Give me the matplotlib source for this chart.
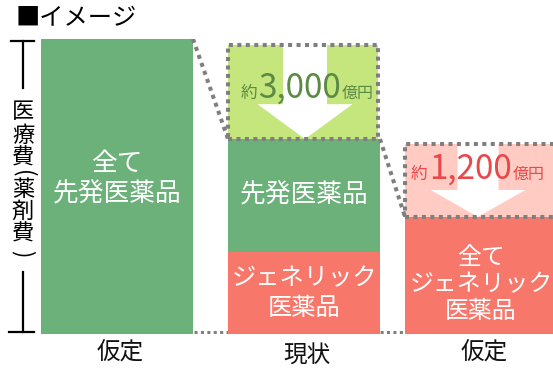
import matplotlib
matplotlib.use('Agg')
import matplotlib.pyplot as plt
import matplotlib.transforms as mtransforms
from matplotlib.lines import Line2D

plt.rcParams['font.family'] = ['Noto Sans CJK JP', 'DejaVu Sans']

# ---- data ----
categories = ['仮定', '現状', '仮定']
brand_vals = [100.0, 38.3, 0.0]      # 先発医薬品
generic_vals = [0.0, 27.8, 39.7]     # ジェネリック医薬品
saving_vals = [0.0, 31.9, 24.7]      # 削減イメージ(表示高さ)
saving_labels = ['', '3,000', '1,200']
brand_text = ['全て\n先発医薬品', '先発医薬品', '']
generic_text = ['', 'ジェネリック\n医薬品', '全て\nジェネリック\n医薬品']
ylabel_chars = ['医', '療', '費', '(', '薬', '剤', '費', ')']
title = '■イメージ'

# ---- layout / style ----
W, H = 553, 370
fig = plt.figure(figsize=(W / 100, H / 100), dpi=100)
px = mtransforms.Affine2D().scale(1 / W, -1 / H).translate(0, 1) + fig.transFigure

ax = fig.add_axes([0, 36 / H, 1, 295 / H])
ax.set_xlim(0, W)
ax.set_ylim(0, 100)
ax.axis('off')

xpos = [117, 304, 481]
bw = 152
green = '#6cb07a'
red = '#f7786b'
gray = '#7f7f7f'
dot = (0, (1, 1.1))

totals = [b + g for b, g in zip(brand_vals, generic_vals)]

# baseline dotted line
ax.plot([xpos[0], xpos[2]], [0.6, 0.6], color=gray, lw=2.2, ls=dot, zorder=1,
        dash_capstyle='butt')

# bars
ax.bar(xpos, generic_vals, width=bw, color=red, zorder=2)
ax.bar(xpos, brand_vals, bottom=generic_vals, width=bw, color=green, zorder=2)

# saving boxes with arrows
box_x = [0, 303, 480]
box_w = [0, 150, 150]
box_fill = [None, '#c5e67d', '#ffcbc2']
arrow_cx = [0, 305, 478]
shaft_w = [0, 44, 41]
head_w = [0, 95, 95]
label_col = [None, '#5b8a45', '#e8484a']
lab_dx = [0, -3.5, -10]
lab_dy = [0, 41, 38]

for i in (1, 2):
    bot = totals[i]
    top = totals[i] + saving_vals[i]
    ax.bar(box_x[i], saving_vals[i], bottom=bot, width=box_w[i],
           color=box_fill[i], zorder=3, lw=0)
    hl = saving_vals[i] * 0.37
    cx = arrow_cx[i]
    s = shaft_w[i] / 2
    h = head_w[i] / 2
    ax.fill([cx - s, cx + s, cx + s, cx + h, cx, cx - h, cx - s],
            [top, top, bot + hl, bot + hl, bot, bot + hl, bot + hl],
            color='white', lw=0, zorder=4)
    ax.bar(box_x[i], saving_vals[i], bottom=bot, width=box_w[i],
           fill=False, edgecolor=gray, linewidth=2.9, linestyle=dot, zorder=5)

# connector dotted lines
ax.plot([xpos[0] + bw / 2, xpos[1] - bw / 2], [totals[0], totals[1]],
        color=gray, lw=2.9, ls=dot, zorder=5)
ax.plot([xpos[1] + bw / 2, xpos[2] - bw / 2], [totals[1], totals[2]],
        color=gray, lw=2.9, ls=dot, zorder=5)

# texts in bars
brand_off = [7, 0, 0]
generic_off = [0, 0, -9]
brand_fs = [18.5, 18.5, 18.5]
generic_fs = [17.5, 17.5, 17.2]
for i in range(3):
    if brand_text[i]:
        ax.annotate(brand_text[i], xy=(xpos[i], generic_vals[i] + brand_vals[i] / 2),
                    xytext=(0, brand_off[i]), textcoords='offset pixels',
                    ha='center', va='center', color='white', fontsize=brand_fs[i],
                    linespacing=1.22, zorder=6)
    if generic_text[i]:
        ax.annotate(generic_text[i], xy=(xpos[i], generic_vals[i] / 2),
                    xytext=(0, generic_off[i]), textcoords='offset pixels',
                    ha='center', va='center', color='white', fontsize=generic_fs[i],
                    linespacing=1.2, zorder=6)

# category labels
cat_dy = [-18, -22, -18]
for i, c in enumerate(categories):
    ax.annotate(c, xy=(xpos[i], 0), xytext=(3, cat_dy[i]), textcoords='offset pixels',
                ha='center', va='center', fontsize=17, color='#111111')

# saving labels (mixed size)
fig.canvas.draw()
r = fig.canvas.get_renderer()
for i in (1, 2):
    t = ax.annotate(saving_labels[i], xy=(box_x[i], totals[i]),
                    xytext=(lab_dx[i], lab_dy[i]), textcoords='offset pixels',
                    ha='center', va='baseline', fontsize=24, color=label_col[i], zorder=6)
    bb = t.get_window_extent(r)
    ax.annotate('約', xy=(box_x[i], totals[i]),
                xytext=(lab_dx[i] - bb.width / 2 - 1, lab_dy[i]), textcoords='offset pixels',
                ha='right', va='baseline', fontsize=12, color=label_col[i], zorder=6)
    ax.annotate('億円', xy=(box_x[i], totals[i]),
                xytext=(lab_dx[i] + bb.width / 2 + 1, lab_dy[i]), textcoords='offset pixels',
                ha='left', va='baseline', fontsize=11.5, color=label_col[i], zorder=6)

# title
fig.text(16, 18, title, transform=px, ha='left', va='center', fontsize=17.5, color='black')

# vertical y label with bracket
ychar_y = [112, 135, 158, 174, 189, 211, 234, 254]
for ch, yy in zip(ylabel_chars, ychar_y):
    rot = -90 if ch in '()' else 0
    fig.text(23, yy, ch, transform=px, ha='center', va='center', fontsize=16,
             color='black', rotation=rot, rotation_mode='anchor')

for (xs, ys) in [([11, 34], [41, 41]), ([22.5, 22.5], [41, 88]),
                 ([22.5, 22.5], [272, 332]), ([9, 34], [332, 332])]:
    fig.add_artist(Line2D(xs, ys, transform=px, color='black', lw=1.6))

fig.savefig('out.png', dpi=100)
